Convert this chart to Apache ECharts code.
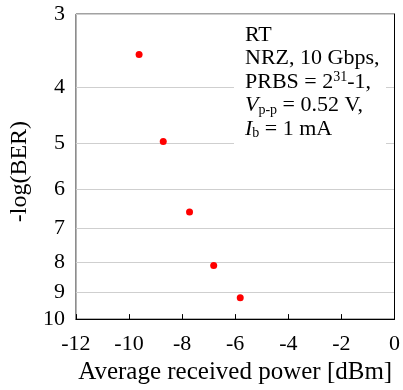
<!DOCTYPE html>
<html lang="en">
  <head>
    <meta charset="UTF-8" />
    <title>BER vs received power</title>
    <script src="https://cdn.jsdelivr.net/npm/echarts@6.0.0/dist/echarts.min.js"></script>
    <style>
      html, body { margin: 0; padding: 0; background: #fff; }
      #main { width: 403px; height: 390px; }
    </style>
  </head>
  <body>
    <div id="main"></div>
    <script>
      // measured points
      const power = [-9.62, -8.71, -7.72, -6.81, -5.81];
      const negLogBer = [3.52, 4.96, 6.55, 8.09, 9.19];
      const yTicks = [3, 4, 5, 6, 7, 8, 9, 10];

      const serif = "'Liberation Serif', 'Times New Roman', serif";

      const points = power.map((p, i) => [p, negLogBer[i]]);

      const chart = echarts.init(document.getElementById('main'));

      chart.setOption({
        animation: false,
        textStyle: { fontFamily: serif, color: '#000' },
        grid: {
          left: 75, top: 14, right: 6, bottom: 69.5,
          show: true, borderColor: '#444', borderWidth: 1
        },
        xAxis: {
          type: 'value',
          min: -12, max: 0, interval: 2,
          name: 'Average received power [dBm]',
          nameLocation: 'middle',
          nameGap: 37,
          nameTextStyle: { fontSize: 25, fontFamily: serif, color: '#000' },
          axisLine: { lineStyle: { color: '#000', width: 1 } },
          axisTick: { inside: true, length: 5, lineStyle: { color: '#000' } },
          axisLabel: { fontSize: 22, margin: 14, fontFamily: serif, color: '#000' },
          splitLine: { show: false }
        },
        yAxis: {
          type: 'log',
          logBase: 10,
          min: 3, max: 10,
          inverse: true,
          name: '-log(BER)',
          nameLocation: 'middle',
          nameGap: 28,
          nameTextStyle: { fontSize: 24, fontFamily: serif, color: '#000', padding: [0, 10, 0, 0] },
          axisLine: { show: true, lineStyle: { color: '#000', width: 1 } },
          axisTick: { show: false, customValues: yTicks },
          axisLabel: { fontSize: 22, margin: 11, fontFamily: serif, color: '#000', customValues: yTicks },
          splitLine: { show: true, lineStyle: { color: '#cfcfcf', width: 1 } }
        },
        graphic: [
          {
            type: 'rect',
            z: 1,
            shape: { x: 234, y: 16, width: 152, height: 134 },
            style: { fill: '#fff' }
          },
          {
            type: 'text',
            z: 51,
            left: 245,
            top: 23,
            style: {
              text: 'RT\nNRZ, 10 Gbps,\nPRBS = 2{sup|31}-1,\n{i|V}{sub|p-p} = 0.52 V,\n{i|I}{sub|b} = 1 mA',
              font: '22px ' + serif,
              fill: '#000',
              lineHeight: 23.5,
              rich: {
                sup: { fontSize: 14, fontFamily: serif, verticalAlign: 'top', lineHeight: 23.5 },
                sub: { fontSize: 14, fontFamily: serif, verticalAlign: 'bottom', lineHeight: 23.5 },
                i: { fontSize: 22, fontFamily: serif, fontStyle: 'italic', lineHeight: 23.5 }
              }
            }
          }
        ],
        series: [
          {
            type: 'scatter',
            data: points,
            symbol: 'circle',
            symbolSize: 7,
            itemStyle: { color: '#ff0000', opacity: 1 }
          }
        ]
      });
    </script>
  </body>
</html>
